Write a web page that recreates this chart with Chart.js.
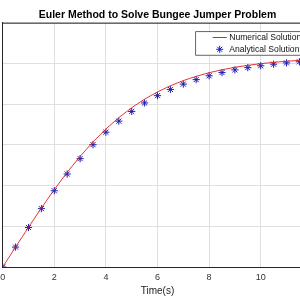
<!DOCTYPE html>
<html><head><meta charset="utf-8">
<script src="https://cdn.jsdelivr.net/npm/chart.js@4.4.0/dist/chart.umd.min.js"></script>
<style>
html,body{margin:0;padding:0;background:#fff;overflow:hidden;width:300px;height:300px;}
#wrap{position:absolute;left:-40px;top:0;width:395px;height:300px;}
</style></head><body>
<div id="wrap"><canvas id="c" width="395" height="300"></canvas></div>
<script>
const chartTitle = 'Euler Method to Solve Bungee Jumper Problem';
const xAxisLabel = 'Time(s)';
const seriesNames = ['Numerical Solution', 'Analytical Solution'];
const timeValues = [0,0.5,1,1.5,2,2.5,3,3.5,4,4.5,5,5.5,6,6.5,7,7.5,8,8.5,9,9.5,10,10.5,11,11.5,12];
const velocityNumerical = [0,4.91,9.77,14.50,19.02,23.26,27.17,30.72,33.89,36.69,39.12,41.22,43.00,44.51,45.78,46.84,47.72,48.44,49.04,49.53,49.93,50.26,50.53,50.75,50.93];
const velocityAnalytical = [0,4.89,9.69,14.33,18.73,22.84,26.61,30.04,33.11,35.83,38.21,40.29,42.08,43.61,44.92,46.02,46.96,47.75,48.41,48.96,49.42,49.81,50.13,50.40,50.62];
const xTicks = [0,2,4,6,8,10,12];
const yTicks = [0,10,20,30,40,50,60];

const FONT = 'Liberation Sans, Arial, Helvetica, sans-serif';
const AXIS = '#262626';
const RED = 'rgb(225,30,40)';
const BLUE = 'rgb(30,30,170)';

function drawStar(ctx, x, y, r) {
  ctx.beginPath();
  ctx.moveTo(x - r, y); ctx.lineTo(x + r, y);
  ctx.moveTo(x, y - r); ctx.lineTo(x, y + r);
  const d = r * Math.SQRT1_2;
  ctx.moveTo(x - d, y - d); ctx.lineTo(x + d, y + d);
  ctx.moveTo(x - d, y + d); ctx.lineTo(x + d, y - d);
  ctx.stroke();
}

const boxPlugin = {
  id: 'box',
  afterDraw(chart) {
    const a = chart.chartArea, ctx = chart.ctx;
    ctx.save();
    ctx.strokeStyle = AXIS; ctx.lineWidth = 1;
    ctx.beginPath();
    ctx.moveTo(a.left, a.top + 0.5); ctx.lineTo(a.right, a.top + 0.5);
    ctx.moveTo(a.right - 0.5, a.top); ctx.lineTo(a.right - 0.5, a.bottom);
    ctx.stroke();
    // legend
    const x0 = a.left + 193, y0 = a.top + 9, w = 110, h = 23.5;
    ctx.fillStyle = '#fff';
    ctx.fillRect(x0, y0, w, h);
    ctx.lineWidth = 0.7; ctx.strokeStyle = AXIS;
    ctx.strokeRect(x0, y0, w, h);
    ctx.font = '8.6px ' + FONT;
    ctx.textBaseline = 'middle';
    const rows = [5.8, 17.6];
    chart.data.datasets.forEach((ds, i) => {
      const y = y0 + rows[i];
      if (ds.showLine !== false) {
        ctx.strokeStyle = RED; ctx.lineWidth = 1;
        ctx.beginPath(); ctx.moveTo(x0 + 17, y); ctx.lineTo(x0 + 31, y); ctx.stroke();
      } else {
        ctx.strokeStyle = BLUE; ctx.lineWidth = 1;
        drawStar(ctx, x0 + 24, y, 3.5);
      }
      ctx.fillStyle = '#111';
      ctx.fillText(ds.label, x0 + 33.5, y);
    });
    ctx.restore();
  }
};

new Chart(document.getElementById('c'), {
  type: 'scatter',
  data: {
    datasets: [
      {
        label: seriesNames[0],
        data: timeValues.map((t, i) => ({x: t, y: velocityNumerical[i]})),
        showLine: true,
        borderColor: RED,
        borderWidth: 0.9,
        pointRadius: 0,
        fill: false,
        tension: 0
      },
      {
        label: seriesNames[1],
        data: timeValues.map((t, i) => ({x: t, y: velocityAnalytical[i]})),
        showLine: false,
        pointStyle: 'star',
        pointRadius: 3.6,
        pointBorderWidth: 1,
        pointBorderColor: BLUE,
        pointBackgroundColor: BLUE,
        borderColor: BLUE
      }
    ]
  },
  options: {
    responsive: false,
    animation: false,
    devicePixelRatio: 1,
    layout: {padding: {left: 42.7, right: 42.7, top: 0, bottom: 0}},
    plugins: {
      legend: {display: false},
      tooltip: {enabled: false},
      title: {
        display: true,
        text: chartTitle,
        color: '#000',
        font: {family: FONT, size: 10.5, weight: 'bold', lineHeight: 1.2},
        padding: {top: 8.4, bottom: 1.7}
      }
    },
    scales: {
      x: {
        type: 'linear', min: 0, max: 12,
        afterFit(s) { s.height = 33; },
        afterBuildTicks(s) { s.ticks = xTicks.map(v => ({value: v})); },
        ticks: {color: '#333', font: {family: FONT, size: 9}, padding: 5.5, maxRotation: 0},
        grid: {color: '#dfdfdf', lineWidth: 1, drawTicks: false},
        border: {color: AXIS, width: 1},
        title: {display: true, text: xAxisLabel, color: '#222', font: {family: FONT, size: 10}, padding: {top: 0, bottom: 3}}
      },
      y: {
        type: 'linear', min: 0, max: 60,
        afterFit(s) { s.width = 0; },
        afterBuildTicks(s) { s.ticks = yTicks.map(v => ({value: v})); },
        ticks: {color: '#333', font: {family: FONT, size: 9}},
        grid: {color: '#dfdfdf', lineWidth: 1, drawTicks: false},
        border: {color: AXIS, width: 1}
      }
    }
  },
  plugins: [boxPlugin]
});
</script>
</body></html>
